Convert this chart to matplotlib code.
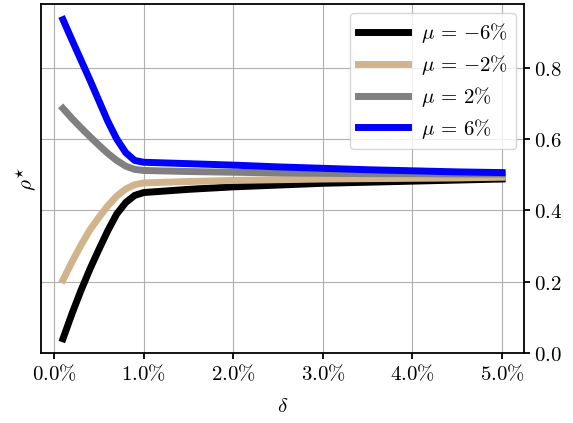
import matplotlib
matplotlib.use("Agg")
import matplotlib.pyplot as plt
from matplotlib.ticker import FuncFormatter

plt.rcParams["mathtext.fontset"] = "cm"
plt.rcParams["font.size"] = 15

# delta grid (in %) and optimal rho for each drift
delta_pct = [0.1, 0.2, 0.3, 0.4, 0.5, 0.6, 0.7, 0.8, 0.9, 1.0,
             1.5, 2.0, 2.5, 3.0, 3.5, 4.0, 4.5, 5.0]

rho_m6 = [0.040, 0.110, 0.175, 0.235, 0.290, 0.343, 0.390, 0.422, 0.442, 0.450,
          0.459, 0.466, 0.471, 0.476, 0.479, 0.482, 0.485, 0.488]
rho_m2 = [0.205, 0.255, 0.302, 0.345, 0.380, 0.413, 0.440, 0.460, 0.472, 0.477,
          0.481, 0.484, 0.486, 0.488, 0.489, 0.490, 0.491, 0.493]
rho_p2 = [0.686, 0.658, 0.632, 0.607, 0.583, 0.560, 0.540, 0.524, 0.515, 0.512,
          0.509, 0.507, 0.505, 0.504, 0.503, 0.503, 0.502, 0.502]
rho_p6 = [0.935, 0.878, 0.822, 0.766, 0.708, 0.650, 0.600, 0.562, 0.540, 0.535,
          0.531, 0.527, 0.522, 0.518, 0.514, 0.511, 0.508, 0.506]

series = [
    (rho_m6, "black", r"$\mu\,=\,{-}6\%$"),
    (rho_m2, "tan", r"$\mu\,=\,{-}2\%$"),
    (rho_p2, "gray", r"$\mu\,=\,2\%$"),
    (rho_p6, "blue", r"$\mu\,=\,6\%$"),
]

delta = [d / 100 for d in delta_pct]

fig = plt.figure(figsize=(5.73, 4.23), dpi=100)
ax = fig.add_axes([0.0716, 0.1655, 0.843, 0.8243])

for vals, color, label in series:
    ax.plot(delta, vals, color=color, linewidth=5, label=label)

ax.set_ylim(0, 0.978)
ax.grid(True, color="#b0b0b0", linewidth=0.8)
ax.set_axisbelow(True)

ax.yaxis.tick_right()
ax.yaxis.set_label_position("left")
ax.set_yticks([0.0, 0.2, 0.4, 0.6, 0.8])
ax.yaxis.set_major_formatter(FuncFormatter(lambda v, p: rf"${v:.1f}$"))
ax.set_xticks([0.0, 0.01, 0.02, 0.03, 0.04, 0.05])
ax.xaxis.set_major_formatter(FuncFormatter(lambda v, p: rf"${v*100:.1f}\%$"))

for s in ax.spines.values():
    s.set_linewidth(1.3)
ax.tick_params(width=1.3, length=4)

ax.set_xlabel(r"$\delta$", labelpad=9)
ax.set_ylabel(r"$\rho^{\star}$", labelpad=2)

ax.legend(loc="upper right", handlelength=2.4, handletextpad=0.6,
          labelspacing=0.38, fontsize=15, borderaxespad=0.4)

fig.savefig("out.png", dpi=100)
